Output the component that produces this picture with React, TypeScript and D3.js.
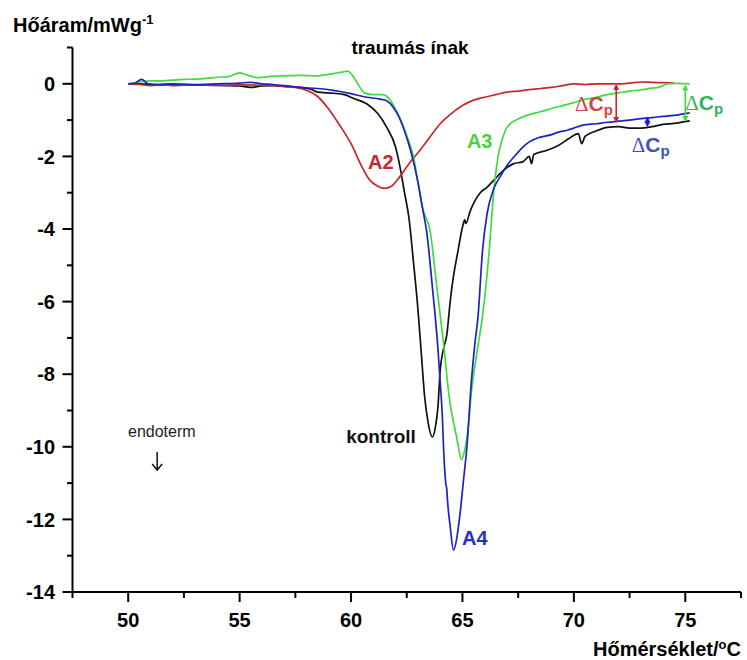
import React from "react";
import * as d3 from "d3";

type Pt = [number, number];

const kontroll: Pt[] = [
  [50, 0], [50.5, 0.0], [51, -0.02], [52, -0.03], [53, -0.03], [54, -0.04], [55, -0.06],
  [55.5, -0.1], [56, -0.06], [56.5, -0.05], [57, -0.07], [57.7, -0.1], [58.2, -0.15],
  [58.5, -0.23], [59.2, -0.26], [59.7, -0.3], [60.1, -0.4], [60.7, -0.55], [61.2, -0.82],
  [61.6, -1.2], [62.0, -1.75], [62.2, -2.3], [62.4, -3.0], [62.6, -3.7], [62.8, -4.9],
  [63.0, -6.2], [63.15, -7.4], [63.3, -8.6], [63.45, -9.3], [63.65, -9.73], [63.8, -9.4],
  [63.9, -8.9], [64.0, -7.9], [64.15, -7.3], [64.3, -6.9], [64.45, -6.0], [64.55, -5.5],
  [64.8, -4.6], [65.0, -3.95], [65.1, -3.75], [65.15, -3.85], [65.35, -3.5], [65.8, -3.0],
  [66.1, -2.85], [66.4, -2.66], [66.85, -2.38], [67.3, -2.2], [67.7, -2.15], [68.0, -2.0],
  [68.1, -2.2], [68.2, -1.95], [68.8, -1.83], [69.3, -1.7], [69.8, -1.5], [70.2, -1.37],
  [70.35, -1.65], [70.5, -1.45], [71.0, -1.3], [71.5, -1.2], [72, -1.18], [72.5, -1.22],
  [73, -1.22], [73.5, -1.18], [74, -1.12], [74.5, -1.09], [75.2, -1.02],
];

const a2: Pt[] = [
  [50, 0], [50.5, -0.02], [51, -0.05], [51.5, -0.03], [52, -0.05], [52.5, -0.04], [53, -0.03],
  [54, -0.05], [55, -0.03], [56, -0.04], [57, -0.07], [57.5, -0.1], [58, -0.18], [58.5, -0.35],
  [59, -0.7], [59.5, -1.15], [60, -1.65], [60.5, -2.3], [60.8, -2.62], [61.2, -2.82],
  [61.5, -2.88], [61.8, -2.83], [62.2, -2.55], [62.6, -2.2], [63, -1.9], [63.5, -1.5],
  [64, -1.1], [64.5, -0.82], [65, -0.6], [65.5, -0.45], [66, -0.37], [66.5, -0.3],
  [67, -0.23], [67.5, -0.2], [68, -0.16], [68.5, -0.13], [69, -0.1], [69.5, -0.05],
  [70, 0.0], [70.5, -0.02], [71, 0.0], [71.5, 0.0], [72, 0.0], [72.5, 0.02], [73, 0.05],
  [73.5, 0.04], [74, 0.03], [74.5, 0.02],
];

const a3: Pt[] = [
  [50, 0], [50.5, 0.05], [51, 0.08], [51.5, 0.08], [52, 0.1], [52.5, 0.12], [53, 0.13],
  [53.5, 0.15], [54, 0.18], [54.5, 0.2], [55, 0.3], [55.3, 0.25], [55.8, 0.17], [56.3, 0.2],
  [57, 0.22], [57.7, 0.23], [58.5, 0.22], [59.2, 0.28], [59.6, 0.32], [59.85, 0.35],
  [60.1, 0.2], [60.3, 0.0], [60.6, -0.25], [61, -0.3], [61.4, -0.3], [61.7, -0.4],
  [62, -0.7], [62.3, -1.1], [62.6, -1.6], [62.8, -2.0], [63.0, -2.7], [63.2, -3.4],
  [63.56, -4.1], [63.85, -5.6], [64.15, -7.15], [64.4, -8.6], [64.76, -9.8], [64.95, -10.35],
  [65.1, -10.1], [65.25, -9.5], [65.4, -8.5], [65.65, -7.4], [65.9, -6.4], [66.2, -4.6],
  [66.4, -3.0], [66.6, -2.0], [66.8, -1.5], [67, -1.2], [67.5, -0.97], [68, -0.85],
  [68.5, -0.77], [69, -0.68], [69.5, -0.6], [70, -0.52], [70.5, -0.43], [71, -0.37],
  [71.5, -0.3], [72, -0.25], [72.5, -0.2], [73, -0.17], [73.5, -0.12], [73.8, -0.1],
  [74.2, 0.0], [74.6, 0.01], [75.2, 0.0],
];

const a4: Pt[] = [
  [50, 0], [50.3, 0.02], [50.6, 0.12], [50.9, 0.0], [51.3, -0.02], [52, 0.0], [53, -0.02],
  [54, 0.0], [55, 0.02], [55.5, 0.04], [56, 0.0], [56.5, -0.02], [57, -0.05], [57.7, -0.1],
  [58.5, -0.13], [59.2, -0.18], [60, -0.27], [60.7, -0.37], [61.3, -0.42], [61.6, -0.47],
  [61.9, -0.65], [62.1, -0.85], [62.4, -1.3], [62.7, -1.9], [63.0, -2.7], [63.2, -3.4],
  [63.4, -4.1], [63.65, -5.6], [63.9, -7.3], [64.0, -8.2], [64.1, -9.2], [64.15, -10.0],
  [64.25, -11.0], [64.3, -11.2], [64.32, -11.4], [64.45, -12.2], [64.6, -12.85],
  [64.75, -12.5], [64.9, -11.8], [65.05, -10.9], [65.2, -10.0], [65.4, -8.2], [65.55, -7.2],
  [65.7, -6.4], [65.9, -4.6], [66.1, -3.6], [66.4, -2.9], [66.7, -2.55], [67.0, -2.25],
  [67.4, -1.95], [67.7, -1.75], [68, -1.6], [68.5, -1.47], [69, -1.4], [69.3, -1.33],
  [69.7, -1.28], [70, -1.22], [70.4, -1.14], [71, -1.1], [71.5, -1.06], [72, -1.03],
  [72.5, -1.0], [73, -0.96], [73.5, -0.93], [74, -0.9], [74.5, -0.87], [75.2, -0.8],
];

const xMajorTicks = [50, 55, 60, 65, 70, 75];
const xMinorTicks = [47.5, 52.5, 57.5, 62.5, 67.5, 72.5, 77.5];
const yMajorTicks = [0, -2, -4, -6, -8, -10, -12, -14];
const yMinorTicks = [1, -1, -3, -5, -7, -9, -11, -13];

const FONT = "'Liberation Sans', Arial, sans-serif";

export default function App() {
  const x = d3.scaleLinear().domain([47.5, 77.5]).range([72.5, 741]);
  const y = d3.scaleLinear().domain([-14, 1]).range([592, 47.5]);
  const line = d3
    .line<Pt>()
    .x((d) => x(d[0]))
    .y((d) => y(d[1]))
    .curve(d3.curveMonotoneX);

  const series = [
    { data: kontroll, color: "#111111" },
    { data: a2, color: "#c8262a" },
    { data: a3, color: "#3fdc3f" },
    { data: a4, color: "#1c22c4" },
  ];

  const dArrow = (t: number, v1: number, v2: number, color: string) => {
    const px = x(t);
    const top = y(v1);
    const bot = y(v2);
    const h = 6;
    const w = 3;
    return (
      <g key={`${t}-${color}`}>
        <line x1={px} x2={px} y1={top + h - 1} y2={bot - h + 1} stroke={color} strokeWidth={1.6} />
        <path d={`M${px},${top} L${px - w},${top + h} L${px + w},${top + h} Z`} fill={color} />
        <path d={`M${px},${bot} L${px - w},${bot - h} L${px + w},${bot - h} Z`} fill={color} />
      </g>
    );
  };

  const dcp = (t: number, v: number, color: string) => (
    <text x={x(t)} y={y(v)} fill={color} fontFamily={FONT} fontWeight="bold" fontSize={21}>
      <tspan fontFamily="'Liberation Serif', 'Times New Roman', serif" fontWeight="normal">Δ</tspan>
      <tspan>C</tspan>
      <tspan fontSize={15} dy={4}>p</tspan>
    </text>
  );

  return (
    <svg
      width={747}
      height={660}
      style={{ position: "absolute", left: 0, top: 0, background: "#fff" }}
    >
      <rect width={747} height={660} fill="#fff" />
      {/* axes */}
      <line x1={72.5} x2={72.5} y1={y(1)} y2={y(-14)} stroke="#000" strokeWidth={2} />
      <line x1={72.5} x2={741} y1={y(-14)} y2={y(-14)} stroke="#000" strokeWidth={2} />
      {yMajorTicks.map((t) => (
        <g key={`ym${t}`}>
          <line x1={62.5} x2={72.5} y1={y(t)} y2={y(t)} stroke="#000" strokeWidth={2} />
          <text
            x={55}
            y={y(t)}
            dy="0.36em"
            textAnchor="end"
            fontFamily={FONT}
            fontWeight="bold"
            fontSize={20}
          >
            {t === 0 ? "0" : `-${Math.abs(t)}`}
          </text>
        </g>
      ))}
      {yMinorTicks.map((t) => (
        <line key={`yn${t}`} x1={67} x2={72.5} y1={y(t)} y2={y(t)} stroke="#000" strokeWidth={2} />
      ))}
      {xMajorTicks.map((t) => (
        <g key={`xm${t}`}>
          <line x1={x(t)} x2={x(t)} y1={592} y2={602} stroke="#000" strokeWidth={2} />
          <text
            x={x(t)}
            y={627}
            textAnchor="middle"
            fontFamily={FONT}
            fontWeight="bold"
            fontSize={20}
          >
            {t}
          </text>
        </g>
      ))}
      {xMinorTicks.map((t) => (
        <line key={`xn${t}`} x1={x(t)} x2={x(t)} y1={592} y2={598} stroke="#000" strokeWidth={2} />
      ))}

      {/* axis titles */}
      <text x={13} y={32} fontFamily={FONT} fontWeight="bold" fontSize={20}>
        Hőáram/mWg
        <tspan fontSize={13} dy={-8}>-1</tspan>
      </text>
      <text x={741} y={656} textAnchor="end" fontFamily={FONT} fontWeight="bold" fontSize={20}>
        Hőmérséklet/
        <tspan fontSize={13} dy={-7}>o</tspan>
        <tspan dy={7}>C</tspan>
      </text>
      <text x={410} y={54} textAnchor="middle" fontFamily={FONT} fontWeight="bold" fontSize={19}>
        traumás ínak
      </text>

      {/* curves */}
      {series.map((s, i) => (
        <path
          key={i}
          d={line(s.data) || ""}
          fill="none"
          stroke={s.color}
          strokeWidth={1.7}
          strokeLinejoin="round"
        />
      ))}

      {/* labels */}
      <text x={x(60.76)} y={y(-2.35)} fill="#c8262a" fontFamily={FONT} fontWeight="bold" fontSize={20}>
        A2
      </text>
      <text x={x(65.2)} y={y(-1.77)} fill="#4ad43a" fontFamily={FONT} fontWeight="bold" fontSize={20}>
        A3
      </text>
      <text x={x(64.98)} y={y(-12.7)} fill="#2230c8" fontFamily={FONT} fontWeight="bold" fontSize={20}>
        A4
      </text>
      <text x={x(59.78)} y={y(-9.9)} fill="#111" fontFamily={FONT} fontWeight="bold" fontSize={19}>
        kontroll
      </text>
      <text x={x(49.99)} y={y(-9.73)} fill="#222" fontFamily={FONT} fontSize={16}>
        endoterm
      </text>
      <g stroke="#111" strokeWidth={1.5} fill="none">
        <line x1={x(51.3)} x2={x(51.3)} y1={y(-10.14)} y2={y(-10.64)} />
        <path d={`M${x(51.3) - 5},${y(-10.64) - 6} L${x(51.3)},${y(-10.64)} L${x(51.3) + 5},${y(-10.64) - 6}`} />
      </g>

      {/* delta Cp annotations */}
      {dArrow(71.9, 0.0, -1.08, "#c8262a")}
      {dArrow(75.0, -0.02, -1.05, "#3fdc3f")}
      {dArrow(73.3, -0.9, -1.2, "#1c22c4")}
      {dcp(70.05, -0.75, "#d24444")}
      {dcp(75.0, -0.72, "#38b25a")}
      {dcp(72.6, -1.88, "#4050bc")}
    </svg>
  );
}
